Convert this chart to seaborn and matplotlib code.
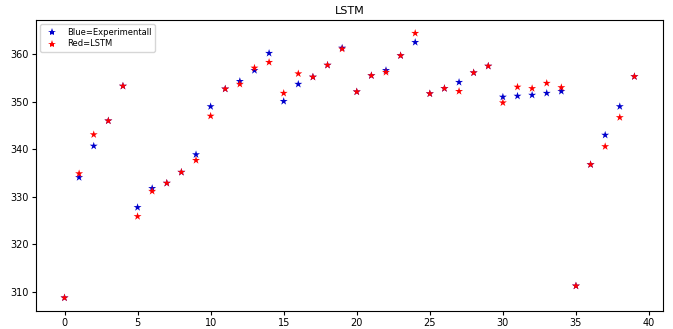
import pandas as pd
import matplotlib
matplotlib.use("Agg")
import matplotlib.pyplot as plt
import seaborn as sns

# values
steps = list(range(40))
experimental = [308.8, 334.1, 340.7, 346.0, 353.3, 327.8, 331.8, 332.9, 335.2, 338.9,
                349.0, 352.7, 354.3, 356.6, 360.2, 350.1, 353.7, 355.2, 357.7, 361.3,
                352.1, 355.5, 356.6, 359.7, 362.5, 351.7, 352.8, 354.1, 356.1, 357.5,
                351.0, 351.2, 351.4, 351.8, 352.2, 311.3, 336.8, 343.0, 349.0, 355.3]
lstm = [308.8, 334.9, 343.1, 346.0, 353.3, 325.9, 331.2, 332.9, 335.2, 337.7,
        347.0, 352.7, 353.7, 357.1, 358.3, 351.8, 355.9, 355.2, 357.7, 361.1,
        352.1, 355.5, 356.2, 359.7, 364.4, 351.7, 352.8, 352.2, 356.1, 357.5,
        349.8, 353.1, 352.8, 353.9, 353.0, 311.3, 336.8, 340.6, 346.7, 355.3]
series_names = ["Blue=Experimentall", "Red=LSTM"]

df = pd.DataFrame({
    "step": steps + steps,
    "value": experimental + lstm,
    "series": [series_names[0]] * len(steps) + [series_names[1]] * len(steps),
})

fig = plt.figure(figsize=(6.73, 3.29), dpi=100)
ax = fig.add_axes([0.0535, 0.0547, 0.9315, 0.8845])

sns.scatterplot(data=df, x="step", y="value", hue="series",
                palette=["#0000cc", "#ff0000"], marker="*", s=36,
                linewidth=0, ax=ax)

ax.set_title("LSTM", fontsize=8, pad=4)
ax.set_xlabel("")
ax.set_ylabel("")
ax.tick_params(labelsize=7, length=3, pad=2)
ax.legend(loc="upper left", fontsize=6, handletextpad=0.8,
          borderpad=0.4, labelspacing=0.35)

plt.savefig("out.png", dpi=100)
